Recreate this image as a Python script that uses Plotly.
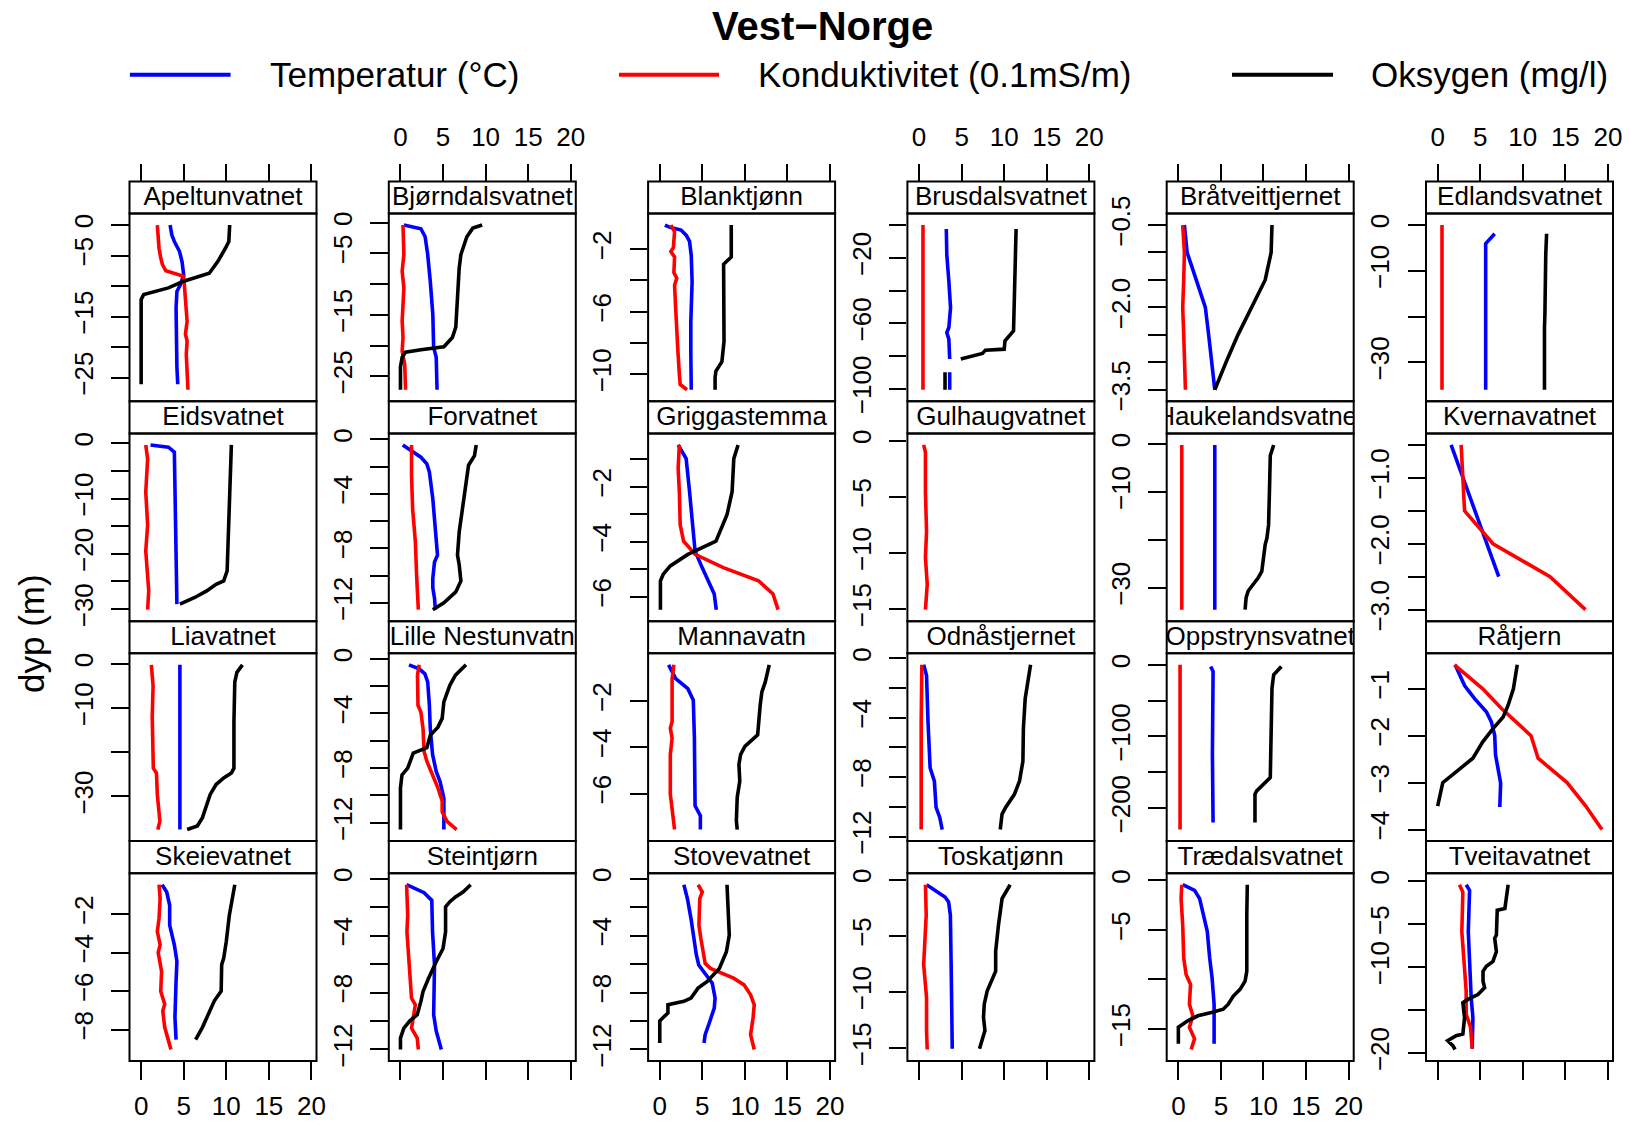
import plotly.graph_objects as go

PAGE_W, PAGE_H = 1629, 1122
BODY_MARGIN = 0                      # page margin removed via post_script below
W, H = PAGE_W - 2 * BODY_MARGIN, PAGE_H - 2 * BODY_MARGIN
FONT = "Liberation Sans, Arial, sans-serif"

TITLE = "Vest−Norge"
LEGEND_LABELS = ["Temperatur (°C)", "Konduktivitet (0.1mS/m)", "Oksygen (mg/l)"]
Y_LABEL = "dyp (m)"
X_TICKS = [0, 5, 10, 15, 20]
X_TICKLABELS = ["0", "5", "10", "15", "20"]
COLORS = ["#0000FF", "#FF0000", "#000000"]

# ---------------- data (dyp = negative depth, m) ----------------
# Apeltunvatnet
ape_temp_dyp = [0, -1.6, -2.7, -4.3, -6.0, -8.2, -9.8, -10.9, -13.6, -18.5, -23.4, -26.1]
ape_temp = [3.4, 3.6, 3.9, 4.5, 4.8, 5.0, 4.6, 4.2, 4.1, 4.1, 4.2, 4.3]
ape_kond_dyp = [0, -1.4, -3.8, -5.4, -6.5, -7.5, -7.7, -8.0, -8.4, -10.3, -12.5, -15.8, -17.9, -19, -21.2, -23.9, -27.0]
ape_kond = [1.9, 1.96, 2.1, 2.3, 2.5, 2.9, 3.4, 4.3, 5.0, 5.1, 5.2, 5.4, 5.2, 5.4, 5.3, 5.4, 5.5]
ape_oks_dyp = [0, -2.7, -3.8, -6.0, -7.9, -8.4, -9.2, -10.3, -11.0, -11.4, -12.2, -15.8, -26.1]
ape_oks = [10.4, 10.3, 9.9, 9.0, 8.0, 6.8, 5.0, 3.2, 1.4, 0.3, 0.0, 0, 0]
ape_yticks = [0, -5, -10, -15, -20, -25]
ape_ylabels = ["0", "−5", "", "−15", "", "−25"]

# Bjørndalsvatnet
bjo_temp_dyp = [-0.4, -1.0, -2.3, -5.2, -9.5, -14.9, -20.3, -21.9, -27.2]
bjo_temp = [0.4, 2.4, 2.9, 3.2, 3.5, 3.8, 3.9, 4.2, 4.3]
bjo_kond_dyp = [-0.4, -5.2, -7.9, -10.6, -16.0, -18.7, -20.9, -23.1, -27.2]
bjo_kond = [0.3, 0.4, 0.2, 0.4, 0.2, 0.3, 0.2, 0.5, 0.6]
bjo_oks_dyp = [-0.4, -0.9, -2.3, -5.2, -7.4, -11.7, -17.0, -18.7, -20.2, -20.7, -21.1, -21.9, -23.5, -27.2]
bjo_oks = [9.6, 8.5, 7.8, 7.1, 6.9, 6.7, 6.5, 6.1, 5.1, 2.4, 0.6, 0.2, 0, 0]
bjo_yticks = [0, -5, -10, -15, -20, -25]
bjo_ylabels = ["0", "−5", "", "−15", "", "−25"]

# Blanktjønn
bla_temp_dyp = [-0.45, -0.6, -0.77, -1.1, -1.5, -2.4, -4.1, -6.6, -8.7, -11.0]
bla_temp = [0.6, 1.2, 2.5, 3.1, 3.5, 3.7, 3.8, 3.65, 3.65, 3.7]
bla_kond_dyp = [-0.45, -0.87, -1.9, -2.15, -2.5, -3.5, -3.85, -4.3, -5.8, -7.5, -8.7, -10.0, -10.66, -11.0]
bla_kond = [1.3, 1.74, 1.6, 1.3, 1.74, 1.66, 2.0, 1.74, 1.87, 2.0, 2.15, 2.3, 2.4, 3.2]
bla_oks_dyp = [-0.45, -2.5, -2.96, -5.55, -7.9, -9.2, -9.8, -10.2, -11.0]
bla_oks = [8.4, 8.4, 7.5, 7.5, 7.55, 7.3, 6.6, 6.5, 6.5]
bla_yticks = [-2, -4, -6, -8, -10]
bla_ylabels = ["−2", "", "−6", "", "−10"]

# Brusdalsvatnet
bru_temp_dyp = [-2.4, -18.2, -34.3, -50.5, -62.6, -65.7, -69.7, -81.8, None, -89.9, -100.6]
bru_temp = [3.2, 3.26, 3.5, 3.7, 3.5, 3.26, 3.5, 3.6, None, 3.6, 3.6]
bru_kond_dyp = [0, -100.6]
bru_kond = [0.46, 0.46]
bru_oks_dyp = [-2.4, -18.2, -50.5, -64.6, -70.7, -75.8, -76.4, -78.4, -81.8, None, -89.9, -100.6]
bru_oks = [11.4, 11.3, 11.2, 11.1, 10.1, 10.0, 7.8, 7.45, 4.9, None, 3.05, 3.05]
bru_yticks = [0, -20, -40, -60, -80, -100]
bru_ylabels = ["", "−20", "", "−60", "", "−100"]

# Bråtveittjernet
bra_temp_dyp = [-0.5, -1.0, -1.5, -2.0, -2.5, -3.0, -3.5]
bra_temp = [0.71, 1.03, 2.1, 3.17, 3.56, 3.88, 4.28]
bra_kond_dyp = [-0.5, -1.0, -1.5, -2.0, -2.5, -3.0, -3.5]
bra_kond = [0.51, 0.71, 0.63, 0.51, 0.63, 0.75, 0.83]
bra_oks_dyp = [-0.5, -1.0, -1.5, -2.0, -2.5, -3.0, -3.5]
bra_oks = [11.0, 10.9, 10.2, 8.6, 7.0, 5.6, 4.28]
bra_yticks = [-0.5, -1.0, -1.5, -2.0, -2.5, -3.0, -3.5]
bra_ylabels = ["−0.5", "", "", "−2.0", "", "", "−3.5"]

# Edlandsvatnet
edl_temp_dyp = [-1.9, -4.07, -36]
edl_temp = [6.7, 5.64, 5.64]
edl_kond_dyp = [0, -36]
edl_kond = [0.51, 0.51]
edl_oks_dyp = [-1.9, -6.4, -19.5, -22.4, -36]
edl_oks = [12.8, 12.7, 12.6, 12.55, 12.55]
edl_yticks = [0, -10, -20, -30]
edl_ylabels = ["0", "−10", "", "−30"]

# Eidsvatnet
eid_temp_dyp = [-0.3, -0.7, -1.6, -8.8, -23.1, -24.9, -29.1]
eid_temp = [1.1, 3.2, 3.9, 4.0, 4.1, 4.2, 4.2]
eid_kond_dyp = [-0.3, -2.8, -8.8, -14.8, -19.5, -23.1, -26.7, -30.1]
eid_kond = [0.54, 0.76, 0.54, 0.76, 0.54, 0.67, 0.89, 0.76]
eid_oks_dyp = [-0.3, -8.8, -19.5, -23.1, -24.9, -25.5, -26.7, -27.9, -29.1]
eid_oks = [10.6, 10.4, 10.2, 10.1, 9.7, 8.8, 7.7, 6.3, 4.55]
eid_yticks = [0, -5, -10, -15, -20, -25, -30]
eid_ylabels = ["0", "", "−10", "", "−20", "", "−30"]

# Forvatnet
for_temp_dyp = [-0.41, -0.83, -1.31, -1.8, -2.4, -4.36, -6.3, -8.5, -9.0, -10.2, -10.9, -11.65, -12.5]
for_temp = [0.27, 1.3, 2.4, 3.1, 3.4, 3.8, 4.1, 4.35, 4.0, 3.8, 3.8, 4.0, 4.1]
for_kond_dyp = [-0.41, -2.65, -5.1, -7.5, -10.0, -12.5]
for_kond = [1.3, 1.3, 1.43, 1.75, 1.9, 2.1]
for_oks_dyp = [-0.41, -1.2, -1.9, -3.6, -5.6, -6.8, -8.5, -9.2, -10.4, -11.2, -12.0, -12.5]
for_oks = [8.9, 8.7, 8.0, 7.6, 7.1, 6.9, 6.7, 6.9, 7.1, 6.5, 5.1, 3.8]
for_yticks = [0, -2, -4, -6, -8, -10, -12]
for_ylabels = ["0", "", "−4", "", "−8", "", "−12"]

# Griggastemma
gri_temp_dyp = [-0.48, -0.98, -2.18, -3.62, -4.34, -4.94, -5.54, -5.9, -6.47]
gri_temp = [2.16, 3.1, 3.5, 3.94, 4.15, 4.98, 5.8, 6.4, 6.64]
gri_kond_dyp = [-0.48, -1.34, -2.18, -3.38, -3.98, -4.46, -4.94, -5.42, -5.9, -6.47]
gri_kond = [2.3, 2.16, 2.3, 2.4, 2.8, 4.15, 7.47, 11.6, 13.3, 13.9]
gri_oks_dyp = [-0.48, -0.98, -2.18, -3.02, -3.98, -4.46, -4.88, -5.18, -5.42, -6.47]
gri_oks = [9.2, 8.7, 8.5, 7.9, 6.6, 3.3, 1.24, 0.41, 0.08, 0.08]
gri_yticks = [-1, -2, -3, -4, -5, -6]
gri_ylabels = ["", "−2", "", "−4", "", "−6"]

# Gulhaugvatnet
gul_temp_dyp = None
gul_temp = None
gul_kond_dyp = [-0.38, -1.03, -4.6, -8.1, -10.4, -12.8, -15.06]
gul_kond = [0.54, 0.75, 0.75, 0.88, 0.75, 0.96, 0.75]
gul_oks_dyp = None
gul_oks = None
gul_yticks = [0, -5, -10, -15]
gul_ylabels = ["0", "−5", "−10", "−15"]

# Haukelandsvatnet
hau_temp_dyp = [-0.2, -34.6]
hau_temp = [4.28, 4.28]
hau_kond_dyp = [-0.2, -34.6]
hau_kond = [0.4, 0.4]
hau_oks_dyp = [-0.2, -2.4, -10.0, -16.9, -19.7, -21.0, -23.8, -26.6, -27.9, -29.3, -30.7, -32.1, -34.6]
hau_oks = [11.2, 10.8, 10.7, 10.6, 10.4, 10.2, 10.0, 9.8, 9.4, 8.8, 8.2, 7.96, 7.84]
hau_yticks = [0, -10, -20, -30]
hau_ylabels = ["0", "−10", "", "−30"]

# Kvernavatnet
kve_temp_dyp = [-0.5, -1.0, -1.5, -2.0, -2.5]
kve_temp = [1.58, 2.96, 4.34, 5.72, 7.18]
kve_kond_dyp = [-0.5, -1.0, -1.5, -2.0, -2.5, -3.0]
kve_kond = [2.76, 2.96, 3.16, 6.5, 13.2, 17.36]
kve_oks_dyp = None
kve_oks = None
kve_yticks = [-0.5, -1.0, -1.5, -2.0, -2.5, -3.0]
kve_ylabels = ["", "−1.0", "", "−2.0", "", "−3.0"]

# Liavatnet
lia_temp_dyp = [-0.2, -23.6, -25.1, -37.5]
lia_temp = [4.55, 4.55, 4.64, 4.55]
lia_kond_dyp = [-0.2, -5, -12, -18, -23.6, -24.7, -29.6, -35.6, -37.5]
lia_kond = [1.2, 1.4, 1.3, 1.4, 1.43, 1.8, 1.9, 2.2, 1.96]
lia_oks_dyp = [-0.2, -1.9, -4.1, -13.1, -23.6, -24.7, -25.8, -27.3, -29.6, -31.8, -34.8, -36.7, -37.5]
lia_oks = [11.9, 11.25, 11.0, 10.9, 10.9, 10.6, 9.7, 8.8, 8.1, 7.7, 7.2, 6.6, 5.4]
lia_yticks = [0, -10, -20, -30]
lia_ylabels = ["0", "−10", "", "−30"]

# Lille Nestunvatn
lil_temp_dyp = [-0.44, -0.73, -1.1, -1.7, -3.4, -5.1, -7.0, -8.24, -9.0, -10.2, -12.5]
lil_temp = [1.0, 2.2, 2.87, 3.2, 3.4, 3.5, 3.77, 4.2, 4.66, 5.1, 5.1]
lil_kond_dyp = [-0.44, -1.2, -3.4, -3.9, -5.1, -6.8, -7.5, -8.5, -9.45, -10.4, -11.2, -11.9, -12.5]
lil_kond = [2.2, 2.0, 2.06, 2.4, 2.65, 2.78, 3.1, 3.77, 4.4, 4.9, 4.9, 5.47, 6.6]
lil_oks_dyp = [-0.44, -1.2, -1.94, -3.15, -4.36, -5.0, -5.6, -6.5, -6.9, -7.3, -8.0, -8.5, -9.45, -12.5]
lil_oks = [7.7, 6.46, 5.8, 5.1, 4.9, 4.4, 3.5, 3.1, 1.5, 1.3, 0.85, 0.18, 0, 0]
lil_yticks = [0, -2, -4, -6, -8, -10, -12]
lil_ylabels = ["0", "", "−4", "", "−8", "", "−12"]

# Mannavatn
man_temp_dyp = [-0.43, -1.03, -1.46, -1.96, -3.6, -5.03, -6.53, -6.96, -7.56]
man_temp = [1.04, 1.87, 3.3, 3.94, 4.07, 4.07, 4.15, 4.77, 4.77]
man_kond_dyp = [-0.43, -1.03, -2.89, -3.17, -3.6, -4.31, -6.03, -6.6, -7.56]
man_kond = [1.66, 1.45, 1.45, 1.24, 1.45, 1.24, 1.24, 1.45, 1.74]
man_oks_dyp = [-0.43, -1.17, -1.6, -2.17, -3.46, -3.74, -3.96, -4.31, -4.74, -5.46, -6.17, -7.17, -7.56]
man_oks = [12.86, 12.4, 12.0, 11.8, 11.5, 10.7, 10.0, 9.5, 9.3, 9.4, 9.1, 9.0, 9.1]
man_yticks = [-2, -4, -6]
man_ylabels = ["−2", "−4", "−6"]

# Odnåstjernet
odn_temp_dyp = [-0.44, -1.16, -4.27, -7.38, -8.27, -10.04, -10.71, -11.53]
odn_temp = [0.54, 0.88, 1.05, 1.3, 1.8, 2.0, 2.43, 2.72]
odn_kond_dyp = [-0.44, -4.27, -11.53]
odn_kond = [0.33, 0.25, 0.25]
odn_oks_dyp = [-0.44, -1.6, -2.7, -4.71, -6.93, -8.27, -9.16, -10.04, -10.49, -11.53]
odn_oks = [13.1, 12.76, 12.47, 12.26, 12.2, 11.8, 11.2, 10.17, 9.75, 9.54]
odn_yticks = [0, -2, -4, -6, -8, -10, -12]
odn_ylabels = ["0", "", "−4", "", "−8", "", "−12"]

# Oppstrynsvatnet
opp_temp_dyp = [-2.3, -9.3, -125, -220]
opp_temp = [3.8, 4.08, 4.0, 4.08]
opp_kond_dyp = [0, -230]
opp_kond = [0.2, 0.2]
opp_oks_dyp = [-2.3, -13.9, -32.4, -78.7, -157.4, -176, -180.6, -220]
opp_oks = [12.1, 11.2, 11.0, 10.9, 10.8, 9.2, 9.0, 9.0]
opp_yticks = [0, -50, -100, -150, -200]
opp_ylabels = ["0", "", "−100", "", "−200"]

# Råtjern
rat_temp_dyp = [-0.49, -0.93, -1.21, -1.49, -1.7, -1.99, -2.41, -2.76, -3.01, -3.52]
rat_temp = [2.05, 3.16, 4.34, 5.72, 6.3, 6.7, 6.8, 7.1, 7.4, 7.3]
rat_kond_dyp = [-0.49, -1.0, -1.42, -2.0, -2.48, -3.0, -3.5, -4.0]
rat_kond = [1.97, 5.3, 7.5, 10.97, 11.8, 15.2, 17.4, 19.3]
rat_oks_dyp = [-0.49, -1.0, -1.35, -1.6, -1.85, -2.13, -2.48, -3.0, -3.5]
rat_oks = [9.35, 8.9, 8.28, 7.7, 6.5, 5.3, 4.14, 0.6, 0.0]
rat_yticks = [-1, -2, -3, -4]
rat_ylabels = ["−1", "−2", "−3", "−4"]

# Skeievatnet
ske_temp_dyp = [-0.47, -0.85, -1.54, -2.57, -3.6, -4.45, -5.48, -7.37, -8.52]
ske_temp = [2.46, 3.0, 3.35, 3.35, 3.9, 4.2, 4.1, 3.97, 4.1]
ske_kond_dyp = [-0.47, -1.19, -2.22, -2.9, -3.6, -4.0, -4.97, -6.0, -6.68, -7.03, -7.88, -8.57, -9.03]
ske_kond = [2.1, 2.23, 2.1, 1.9, 2.23, 2.0, 2.4, 2.3, 2.77, 2.54, 2.77, 3.2, 3.5]
ske_oks_dyp = [-0.47, -1.37, -2.05, -3.42, -4.28, -4.62, -6.0, -6.5, -7.2, -7.88, -8.52]
ske_oks = [11.0, 10.6, 10.36, 10.0, 9.7, 9.46, 9.4, 8.6, 7.9, 7.2, 6.4]
ske_yticks = [-2, -4, -6, -8]
ske_ylabels = ["−2", "−4", "−6", "−8"]

# Steintjørn
ste_temp_dyp = [-0.42, -0.7, -0.98, -1.52, -3.73, -6.06, -9.56, -10.7, -12.0]
ste_temp = [0.72, 1.75, 2.78, 3.68, 3.77, 4.0, 3.9, 4.2, 4.8]
ste_kond_dyp = [-0.42, -2.56, -3.73, -6.06, -8.39, -8.86, -10.0, -10.5, -11.2, -12.0]
ste_kond = [0.72, 0.85, 0.76, 1.08, 1.3, 1.75, 1.43, 1.3, 1.97, 2.1]
ste_oks_dyp = [-0.42, -0.93, -1.28, -1.63, -1.98, -3.73, -4.9, -5.36, -5.83, -7.0, -7.93, -8.62, -9.56, -10.0, -10.5, -11.2, -12.0]
ste_oks = [8.25, 7.35, 6.46, 5.78, 5.3, 5.3, 5.0, 4.66, 4.2, 3.3, 2.65, 2.4, 1.97, 1.08, 0.4, 0, 0]
ste_yticks = [0, -2, -4, -6, -8, -10, -12]
ste_ylabels = ["0", "", "−4", "", "−8", "", "−12"]

# Stovevatnet
sto_temp_dyp = [-0.42, -1.4, -2.8, -4.2, -5.36, -6.06, -6.64, -7.34, -8.39, -9.09, -10.26, -10.96, -11.54]
sto_temp = [2.83, 3.25, 3.67, 4.0, 4.3, 4.58, 5.33, 6.17, 6.5, 6.4, 5.75, 5.33, 5.2]
sto_kond_dyp = [-0.42, -0.93, -1.4, -3.26, -4.2, -5.13, -5.94, -6.3, -6.64, -6.99, -7.46, -8.16, -8.86, -9.79, -10.96, -12.0]
sto_kond = [4.5, 5.0, 4.7, 4.6, 4.83, 5.1, 5.33, 5.96, 7.4, 8.67, 9.9, 10.67, 11.1, 10.96, 10.67, 11.1]
sto_oks_dyp = [-0.42, -2.56, -3.96, -5.13, -6.3, -7.23, -7.69, -8.39, -8.62, -8.86, -9.44, -9.67, -10.0, -11.54]
sto_oks = [7.9, 8.04, 8.17, 7.83, 7.0, 5.54, 4.5, 3.67, 2.83, 0.96, 0.96, 0.54, 0, 0]
sto_yticks = [0, -2, -4, -6, -8, -10, -12]
sto_ylabels = ["0", "", "−4", "", "−8", "", "−12"]

# Toskatjønn
tos_temp_dyp = [-0.44, -0.94, -1.53, -1.97, -3.15, -7.56, -11.97, -15.06]
tos_temp = [0.88, 1.8, 3.05, 3.47, 3.68, 3.77, 3.8, 3.9]
tos_kond_dyp = [-0.44, -3.15, -7.56, -10.5, -13.44, -15.12]
tos_kond = [0.75, 0.84, 0.54, 0.88, 0.88, 0.96]
tos_oks_dyp = [-0.44, -1.09, -1.68, -4.03, -6.38, -8.15, -9.03, -9.91, -11.09, -12.26, -13.44, -14.32, -15.06]
tos_oks = [10.7, 10.17, 9.75, 9.33, 9.0, 9.0, 8.5, 8.0, 7.66, 7.57, 7.74, 7.45, 7.1]
tos_yticks = [0, -5, -10, -15]
tos_ylabels = ["0", "−5", "−10", "−15"]

# Trædalsvatnet
tra_temp_dyp = [-0.43, -1.0, -1.83, -3.5, -5.17, -7.83, -9.83, -12.5, -16.5]
tra_temp = [0.51, 1.9, 2.5, 3.0, 3.4, 3.68, 3.96, 4.2, 4.2]
tra_kond_dyp = [-0.43, -1.83, -4.5, -7.83, -9.5, -10.5, -12.5, -13.67, -14.83, -16.0, -17.07]
tra_kond = [0.4, 0.32, 0.51, 0.63, 0.91, 1.43, 1.3, 1.7, 1.3, 1.9, 1.5]
tra_oks_dyp = [-0.43, -3.5, -9.17, -10.17, -11.0, -11.67, -12.5, -13.0, -13.33, -13.67, -14.17, -14.83, -16.5]
tra_oks = [8.1, 8.04, 8.04, 7.84, 7.25, 6.46, 5.86, 5.27, 3.88, 2.3, 1.1, 0, 0]
tra_yticks = [0, -5, -10, -15]
tra_ylabels = ["0", "−5", "", "−15"]

# Tveitavatnet
tve_temp_dyp = [-0.42, -1.08, -5.9, -10.5, -13.6, -15.9, -19.5]
tve_temp = [3.35, 3.75, 3.6, 3.75, 3.94, 4.14, 4.06]
tve_kond_dyp = [-0.42, -1.27, -5.9, -9.73, -12.8, -15.5, -17.0, -19.5]
tve_kond = [2.56, 2.96, 2.84, 3.08, 3.35, 3.35, 3.86, 4.06]
tve_oks_dyp = [-0.42, -3.19, -3.38, -6.27, -6.65, -8.19, -9.35, -9.92, -10.5, -11.65, -12.4, -13.2, -13.77, -14.15, -15.9, -17.8, -18.0, -18.58, -19.15, -19.6]
tve_oks = [8.28, 7.9, 7.0, 6.9, 6.7, 6.9, 6.5, 5.72, 5.33, 5.33, 5.52, 4.73, 3.55, 2.96, 3.16, 2.96, 2.17, 1.18, 1.78, 2.05]
tve_yticks = [0, -5, -10, -15, -20]
tve_ylabels = ["0", "−5", "−10", "", "−20"]

LAKES = [
    ("Apeltunvatnet", ape_temp_dyp, ape_temp, ape_kond_dyp, ape_kond, ape_oks_dyp, ape_oks, ape_yticks, ape_ylabels),
    ("Bjørndalsvatnet", bjo_temp_dyp, bjo_temp, bjo_kond_dyp, bjo_kond, bjo_oks_dyp, bjo_oks, bjo_yticks, bjo_ylabels),
    ("Blanktjønn", bla_temp_dyp, bla_temp, bla_kond_dyp, bla_kond, bla_oks_dyp, bla_oks, bla_yticks, bla_ylabels),
    ("Brusdalsvatnet", bru_temp_dyp, bru_temp, bru_kond_dyp, bru_kond, bru_oks_dyp, bru_oks, bru_yticks, bru_ylabels),
    ("Bråtveittjernet", bra_temp_dyp, bra_temp, bra_kond_dyp, bra_kond, bra_oks_dyp, bra_oks, bra_yticks, bra_ylabels),
    ("Edlandsvatnet", edl_temp_dyp, edl_temp, edl_kond_dyp, edl_kond, edl_oks_dyp, edl_oks, edl_yticks, edl_ylabels),
    ("Eidsvatnet", eid_temp_dyp, eid_temp, eid_kond_dyp, eid_kond, eid_oks_dyp, eid_oks, eid_yticks, eid_ylabels),
    ("Forvatnet", for_temp_dyp, for_temp, for_kond_dyp, for_kond, for_oks_dyp, for_oks, for_yticks, for_ylabels),
    ("Griggastemma", gri_temp_dyp, gri_temp, gri_kond_dyp, gri_kond, gri_oks_dyp, gri_oks, gri_yticks, gri_ylabels),
    ("Gulhaugvatnet", gul_temp_dyp, gul_temp, gul_kond_dyp, gul_kond, gul_oks_dyp, gul_oks, gul_yticks, gul_ylabels),
    ("Haukelandsvatnet", hau_temp_dyp, hau_temp, hau_kond_dyp, hau_kond, hau_oks_dyp, hau_oks, hau_yticks, hau_ylabels),
    ("Kvernavatnet", kve_temp_dyp, kve_temp, kve_kond_dyp, kve_kond, kve_oks_dyp, kve_oks, kve_yticks, kve_ylabels),
    ("Liavatnet", lia_temp_dyp, lia_temp, lia_kond_dyp, lia_kond, lia_oks_dyp, lia_oks, lia_yticks, lia_ylabels),
    ("Lille Nestunvatn", lil_temp_dyp, lil_temp, lil_kond_dyp, lil_kond, lil_oks_dyp, lil_oks, lil_yticks, lil_ylabels),
    ("Mannavatn", man_temp_dyp, man_temp, man_kond_dyp, man_kond, man_oks_dyp, man_oks, man_yticks, man_ylabels),
    ("Odnåstjernet", odn_temp_dyp, odn_temp, odn_kond_dyp, odn_kond, odn_oks_dyp, odn_oks, odn_yticks, odn_ylabels),
    ("Oppstrynsvatnet", opp_temp_dyp, opp_temp, opp_kond_dyp, opp_kond, opp_oks_dyp, opp_oks, opp_yticks, opp_ylabels),
    ("Råtjern", rat_temp_dyp, rat_temp, rat_kond_dyp, rat_kond, rat_oks_dyp, rat_oks, rat_yticks, rat_ylabels),
    ("Skeievatnet", ske_temp_dyp, ske_temp, ske_kond_dyp, ske_kond, ske_oks_dyp, ske_oks, ske_yticks, ske_ylabels),
    ("Steintjørn", ste_temp_dyp, ste_temp, ste_kond_dyp, ste_kond, ste_oks_dyp, ste_oks, ste_yticks, ste_ylabels),
    ("Stovevatnet", sto_temp_dyp, sto_temp, sto_kond_dyp, sto_kond, sto_oks_dyp, sto_oks, sto_yticks, sto_ylabels),
    ("Toskatjønn", tos_temp_dyp, tos_temp, tos_kond_dyp, tos_kond, tos_oks_dyp, tos_oks, tos_yticks, tos_ylabels),
    ("Trædalsvatnet", tra_temp_dyp, tra_temp, tra_kond_dyp, tra_kond, tra_oks_dyp, tra_oks, tra_yticks, tra_ylabels),
    ("Tveitavatnet", tve_temp_dyp, tve_temp, tve_kond_dyp, tve_kond, tve_oks_dyp, tve_oks, tve_yticks, tve_ylabels),
]

# ---------------- layout geometry (page px) ----------------
NCOL = 6
COL_LEFT0, COL_PITCH, PANEL_W = 129.5, 259.3, 187.0
ROW_TOP0, ROW_PITCH, STRIP_H, PLOT_H = 181.4, 219.9, 32.1, 187.8
X_RANGE = [-1.37, 20.6]
PAD = 0.07
TICKLEN = 17.5
TICK_FONT = 26
LINE_W = 3.6


def px(p):   # page x px -> paper fraction
    return (p - BODY_MARGIN) / W


def py(p):   # page y px (from top) -> paper fraction
    return 1 - (p - BODY_MARGIN) / H


fig = go.Figure()
layout = dict(
    width=W, height=H, margin=dict(l=0, r=0, t=0, b=0, autoexpand=False),
    paper_bgcolor="white", plot_bgcolor="white", showlegend=False,
    font=dict(family=FONT, color="black", size=TICK_FONT),
)
shapes, annotations = [], []

for i, (name, td, tv, kd, kv, od, ov, yticks, ylabels) in enumerate(LAKES):
    r, c = divmod(i, NCOL)
    n = i + 1
    xa = "x" if n == 1 else f"x{n}"
    ya = "y" if n == 1 else f"y{n}"
    left = COL_LEFT0 + c * COL_PITCH
    strip_top = ROW_TOP0 + r * ROW_PITCH
    plot_top = strip_top + STRIP_H
    plot_bot = plot_top + PLOT_H
    xd = [px(left), px(left + PANEL_W)]
    yd = [py(plot_bot), py(plot_top)]

    all_y = []
    for (ys, xs, col, lab) in [(td, tv, COLORS[0], LEGEND_LABELS[0]),
                               (kd, kv, COLORS[1], LEGEND_LABELS[1]),
                               (od, ov, COLORS[2], LEGEND_LABELS[2])]:
        if ys is None:
            continue
        all_y += [v for v in ys if v is not None]
        fig.add_trace(go.Scatter(x=xs, y=ys, mode="lines", name=lab,
                                 line=dict(color=col, width=LINE_W),
                                 xaxis=xa, yaxis=ya, hoverinfo="skip"))
    lo, hi = min(all_y), max(all_y)
    pad = PAD * (hi - lo)

    xaxis = dict(domain=xd, range=X_RANGE, tickvals=X_TICKS, ticktext=X_TICKLABELS,
                 showgrid=False, zeroline=False, showline=False, ticks="",
                 showticklabels=False, tickangle=0, fixedrange=True,
                 ticklabeloverflow="allow", tickfont=dict(size=TICK_FONT))
    if r == 0:
        xaxis.update(anchor="free", position=py(strip_top), side="top",
                     ticks="outside", ticklen=TICKLEN, tickwidth=2, tickcolor="black",
                     showticklabels=(c % 2 == 1), ticklabelstandoff=8)
    elif r == 3:
        xaxis.update(anchor=ya, side="bottom", ticks="outside", ticklen=TICKLEN,
                     tickwidth=2, tickcolor="black", showticklabels=(c % 2 == 0),
                     ticklabelstandoff=4)
    else:
        xaxis.update(anchor=ya)
    yaxis = dict(domain=yd, anchor=xa, range=[lo - pad, hi + pad],
                 tickvals=yticks, ticktext=ylabels, ticks="outside", ticklen=TICKLEN,
                 tickwidth=2, tickcolor="black", tickangle=-90, showgrid=False,
                 zeroline=False, showline=False, fixedrange=True,
                 ticklabeloverflow="allow",
                 tickfont=dict(size=TICK_FONT), ticklabelstandoff=8)
    layout["xaxis" if n == 1 else f"xaxis{n}"] = xaxis
    layout["yaxis" if n == 1 else f"yaxis{n}"] = yaxis

    # strip (own hidden axes so the label is clipped to the strip box)
    sn = 24 + n
    layout[f"xaxis{sn}"] = dict(domain=xd, range=[0, 1], visible=False, fixedrange=True, anchor=f"y{sn}")
    layout[f"yaxis{sn}"] = dict(domain=[py(plot_top), py(strip_top)], range=[0, 1],
                                visible=False, fixedrange=True, anchor=f"x{sn}")
    fig.add_trace(go.Scatter(x=[0.5], y=[0.47], mode="text", text=[name],
                             textposition="middle center", cliponaxis=True,
                             textfont=dict(size=TICK_FONT, color="black", family=FONT),
                             xaxis=f"x{sn}", yaxis=f"y{sn}", hoverinfo="skip"))
    shapes.append(dict(type="rect", xref="paper", yref="paper", x0=xd[0], x1=xd[1],
                       y0=py(plot_top), y1=py(strip_top),
                       line=dict(color="black", width=2)))
    shapes.append(dict(type="rect", xref="paper", yref="paper", x0=xd[0], x1=xd[1],
                       y0=yd[0], y1=yd[1], line=dict(color="black", width=2)))

# title
annotations.append(dict(text="<b>" + TITLE + "</b>", x=px(822), y=py(26), xref="paper", yref="paper",
                        showarrow=False, xanchor="center", yanchor="middle",
                        font=dict(size=40, family=FONT, color="black")))
# legend (drawn manually to match the layout)
LEG_Y = 74.8
LEG_LINE_X = [(129.9, 230.6), (619.0, 719.0), (1232.0, 1333.0)]
LEG_TEXT_X = [268.0, 756.0, 1369.0]
for (x0, x1), tx, col, lab in zip(LEG_LINE_X, LEG_TEXT_X, COLORS, LEGEND_LABELS):
    shapes.append(dict(type="line", xref="paper", yref="paper", x0=px(x0), x1=px(x1),
                       y0=py(LEG_Y), y1=py(LEG_Y), line=dict(color=col, width=4)))
    annotations.append(dict(text=lab, x=px(tx), y=py(LEG_Y), xref="paper", yref="paper",
                            showarrow=False, xanchor="left", yanchor="middle",
                            font=dict(size=35, family=FONT, color="black")))
# y label
annotations.append(dict(text=Y_LABEL, x=px(31), y=py(634), xref="paper", yref="paper",
                        showarrow=False, xanchor="center", yanchor="middle", textangle=-90,
                        font=dict(size=35, family=FONT, color="black")))

layout["shapes"] = shapes
layout["annotations"] = annotations
fig.update_layout(**layout)
fig.write_html("out.html", config={"displayModeBar": False, "staticPlot": True},
               post_script="document.body.style.margin='0px';")
